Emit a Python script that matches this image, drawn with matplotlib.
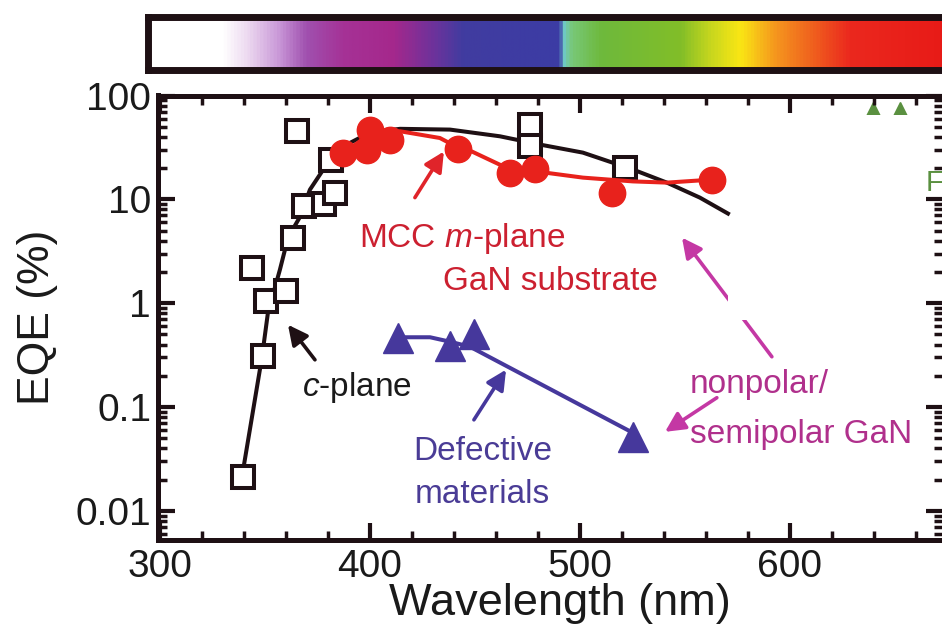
import numpy as np
import matplotlib
matplotlib.use('Agg')
import matplotlib.pyplot as plt
from matplotlib.colors import LinearSegmentedColormap, Normalize
from matplotlib.patches import Rectangle
from matplotlib.ticker import FixedLocator, FixedFormatter, LogLocator, MultipleLocator, NullFormatter

plt.rcParams['font.family'] = ['Liberation Sans', 'DejaVu Sans']
plt.rcParams['mathtext.fontset'] = 'custom'
plt.rcParams['mathtext.rm'] = 'Liberation Sans'
plt.rcParams['mathtext.it'] = 'Liberation Sans:italic'

#  c-plane LEDs (open squares) and the guide line through them
c_plane_wl = [339.4, 348.9, 343.7, 350.5, 360.0, 363.5, 365.1, 368.6, 378.1, 383.3, 381.4, 476.2, 476.2, 521.4]
c_plane_eqe = [0.021, 0.31, 2.2, 1.04, 1.3, 4.25, 46.0, 8.6, 9.1, 11.5, 24.0, 52.0, 33.0, 20.0]
c_plane_fit_wl = [339.0, 348.6, 351.4, 357.1, 361.0, 366.7, 371.4, 377.1, 381.9, 390.5, 400.0,
                  414.3, 438.1, 461.9, 481.0, 501.4, 525.2, 541.4, 557.1, 570.5]
c_plane_fit_eqe = [0.021, 0.305, 0.81, 2.1, 4.3, 6.8, 12.4, 18.5, 23.0, 35.0, 44.0,
                   47.8, 47.0, 40.5, 33.7, 28.2, 19.4, 14.5, 10.4, 7.3]

#  MCC m-plane GaN substrate (red circles)
mcc_wl = [387.3, 398.4, 400.0, 409.5, 442.0, 466.7, 478.6, 515.1, 562.7]
mcc_eqe = [28.0, 30.0, 47.0, 37.6, 30.6, 18.0, 19.4, 11.5, 15.5]
mcc_fit_wl = [388.1, 400.0, 414.3, 433.3, 442.0, 448.4, 466.7, 484.3, 501.4, 525.2, 541.4, 562.9]
mcc_fit_eqe = [28.9, 42.0, 45.3, 39.0, 31.5, 29.0, 19.4, 18.0, 16.2, 14.9, 14.5, 15.5]

#  Defective materials (blue triangles)
defect_wl = [413.3, 438.3, 449.5, 525.5]
defect_eqe = [0.465, 0.383, 0.508, 0.052]
defect_fit_wl = [413.3, 428.6, 438.1, 447.6, 525.2]
defect_fit_eqe = [0.47, 0.47, 0.426, 0.381, 0.0565]

#  Green points at the top right edge
green_wl = [639.5, 652.4]
green_eqe = [64.0, 64.0]

y_ticks = [0.01, 0.1, 1, 10, 100]
y_tick_labels = ['0.01', '0.1', '1', '10', '100']
x_ticks = [300, 400, 500, 600]
x_tick_labels = ['300', '400', '500', '600']

#  Spectrum bar colour stops (wavelength, colour)
spectrum_nm = [292.9, 328.0, 340.0, 355.0, 368.0, 385.7, 409.5, 428.6, 442.9, 489.5, 491.4,
               495.2, 509.5, 547.6, 561.9, 576.0, 592.9, 609.5, 628.6, 695.2]
spectrum_colors = ['#ffffff', '#ffffff', '#ecd8f0', '#c896d7', '#a050af', '#a53296', '#a5288c',
                   '#6e329b', '#413ca0', '#3c3ca5', '#6ec8c8', '#78c878', '#6eb93c', '#82be28',
                   '#c8d71e', '#fae614', '#f5961e', '#f0641e', '#eb281e', '#e61414']

dark = '#1e1014'
red = '#e8221c'
blue = '#46389c'
magenta = '#c438a4'
green = '#5a9040'

W, H = 942, 635


def px_x(p):
    return p / W


def px_y(p):
    return 1 - p / H


def eqe_chart():
    fig = plt.figure(figsize=(W / 100, H / 100), dpi=100)

    #  Spectrum bar on top
    bar_left, bar_right = 147.5, 990.0
    cax = fig.add_axes([px_x(bar_left), px_y(70.0), px_x(bar_right - bar_left), (70.0 - 17.0) / H])
    nm0, nm1 = spectrum_nm[0], spectrum_nm[-1]
    stops = [((nm - nm0) / (nm1 - nm0), c) for nm, c in zip(spectrum_nm, spectrum_colors)]
    cmap = LinearSegmentedColormap.from_list('spectrum', stops)
    grid = np.linspace(nm0, nm1, 1000)[None, :]
    cax.imshow(grid, cmap=cmap, norm=Normalize(nm0, nm1), aspect='auto',
               extent=(nm0, nm1, 0, 1))
    cax.set_xlim(nm0, nm1)
    cax.set_ylim(0, 1)
    cax.set_xticks([])
    cax.set_yticks([])
    for s in cax.spines.values():
        s.set_linewidth(5)
        s.set_color(dark)

    #  Main EQE axes
    ax = fig.add_axes([px_x(158), px_y(539.5), px_x(943 - 158), (539.5 - 95.5) / H])
    ax.set_yscale('log')
    ax.set_xlim(299.05, 672.9)
    ax.set_ylim(0.0053, 100.1)
    ax.set_axisbelow(False)

    ax.yaxis.set_major_locator(FixedLocator(y_ticks))
    ax.yaxis.set_major_formatter(FixedFormatter(y_tick_labels))
    ax.yaxis.set_minor_locator(LogLocator(base=10, subs=range(2, 10)))
    ax.yaxis.set_minor_formatter(NullFormatter())
    ax.xaxis.set_major_locator(FixedLocator(x_ticks))
    ax.xaxis.set_major_formatter(FixedFormatter(x_tick_labels))
    ax.xaxis.set_minor_locator(MultipleLocator(20))

    ax.tick_params(which='both', direction='in', top=True, right=True, color=dark,
                   labelcolor='#1a1a1a', labelsize=28)
    ax.tick_params(which='major', length=12, width=3)
    ax.tick_params(which='minor', length=6.5, width=2.5)
    ax.tick_params(axis='x', pad=7)
    ax.tick_params(axis='y', pad=5)
    for s in ax.spines.values():
        s.set_linewidth(3.6)
        s.set_color(dark)

    #  Green series peeking from under the blank panel
    ax.plot(green_wl, green_eqe, '^', color=green, ms=20, zorder=2)

    #  c-plane
    ax.plot(c_plane_fit_wl, c_plane_fit_eqe, '-', color=dark, lw=2.9, zorder=3)
    ax.plot(c_plane_wl, c_plane_eqe, 's', mfc='white', mec=dark, mew=2.9, ms=15.5, zorder=3.2)

    #  MCC m-plane GaN substrate
    ax.plot(mcc_fit_wl, mcc_fit_eqe, '-', color=red, lw=2.9, zorder=3.4)
    ax.plot(mcc_wl, mcc_eqe, 'o', color=red, mec=red, ms=19, zorder=3.5)

    #  Defective materials
    ax.plot(defect_fit_wl, defect_fit_eqe, '-', color=blue, lw=2.9, zorder=3.4)
    ax.plot(defect_wl, defect_eqe, '^', color=blue, mec=blue, ms=21, zorder=3.5)

    #  Blank panel over the right part of the plot
    ax.add_patch(Rectangle((570.5, 0.69), 664.5 - 570.5, 65.6 - 0.69, facecolor='white',
                           edgecolor='none', zorder=2.2))

    #  Labels with arrows
    def arrow(tail, head, color, z=4):
        ax.annotate('', xy=head, xytext=tail, zorder=z,
                    arrowprops=dict(arrowstyle='-|>,head_length=0.7,head_width=0.35',
                                    lw=2.6, color=color, mutation_scale=17,
                                    shrinkA=0, shrinkB=0))

    arrow((373.8, 0.285), (360.95, 0.62), dark)
    arrow((421.4, 10.4), (435.2, 28.9), '#e0242a')
    arrow((449.5, 0.0753), (464.8, 0.229), blue)
    arrow((591.4, 0.305), (548.6, 4.28), magenta, z=2.1)
    arrow((565.2, 0.123), (540.5, 0.0577), magenta)

    fs = 24
    ax.text(443.8, 3.5, 'MCC $\\it{m}$-plane', color='#cc2030', fontsize=fs,
            ha='center', va='baseline', zorder=5)
    ax.text(486.0, 1.35, 'GaN substrate', color='#cc2030', fontsize=fs,
            ha='center', va='baseline', zorder=5)
    ax.text(393.6, 0.128, '$\\it{c}$-plane', color='#1a1a1a', fontsize=fs,
            ha='center', va='baseline', zorder=5)
    ax.text(453.6, 0.031, 'Defective', color='#4a3c96', fontsize=fs,
            ha='center', va='baseline', zorder=5)
    ax.text(453.6, 0.0119, 'materials', color='#4a3c96', fontsize=fs,
            ha='center', va='baseline', zorder=5)
    ax.text(552.4, 0.137, 'nonpolar/', color='#b0308c', fontsize=fs,
            ha='left', va='baseline', zorder=5)
    ax.text(552.4, 0.0452, 'semipolar GaN', color='#b0308c', fontsize=fs,
            ha='left', va='baseline', zorder=5)
    ax.text(664.4, 12.1, 'F', color=green, fontsize=21, ha='left', va='baseline',
            zorder=5, clip_on=False)

    #  Axis titles
    fig.text(px_x(560), px_y(603), 'Wavelength (nm)', fontsize=32.5, color='#1a1a1a',
             ha='center', va='center')
    fig.text(px_x(38), px_y(317), 'EQE (%)', fontsize=32, color='#1a1a1a',
             ha='center', va='center', rotation=90)
    return fig


fig = eqe_chart()
fig.savefig('out.png', dpi=100)
